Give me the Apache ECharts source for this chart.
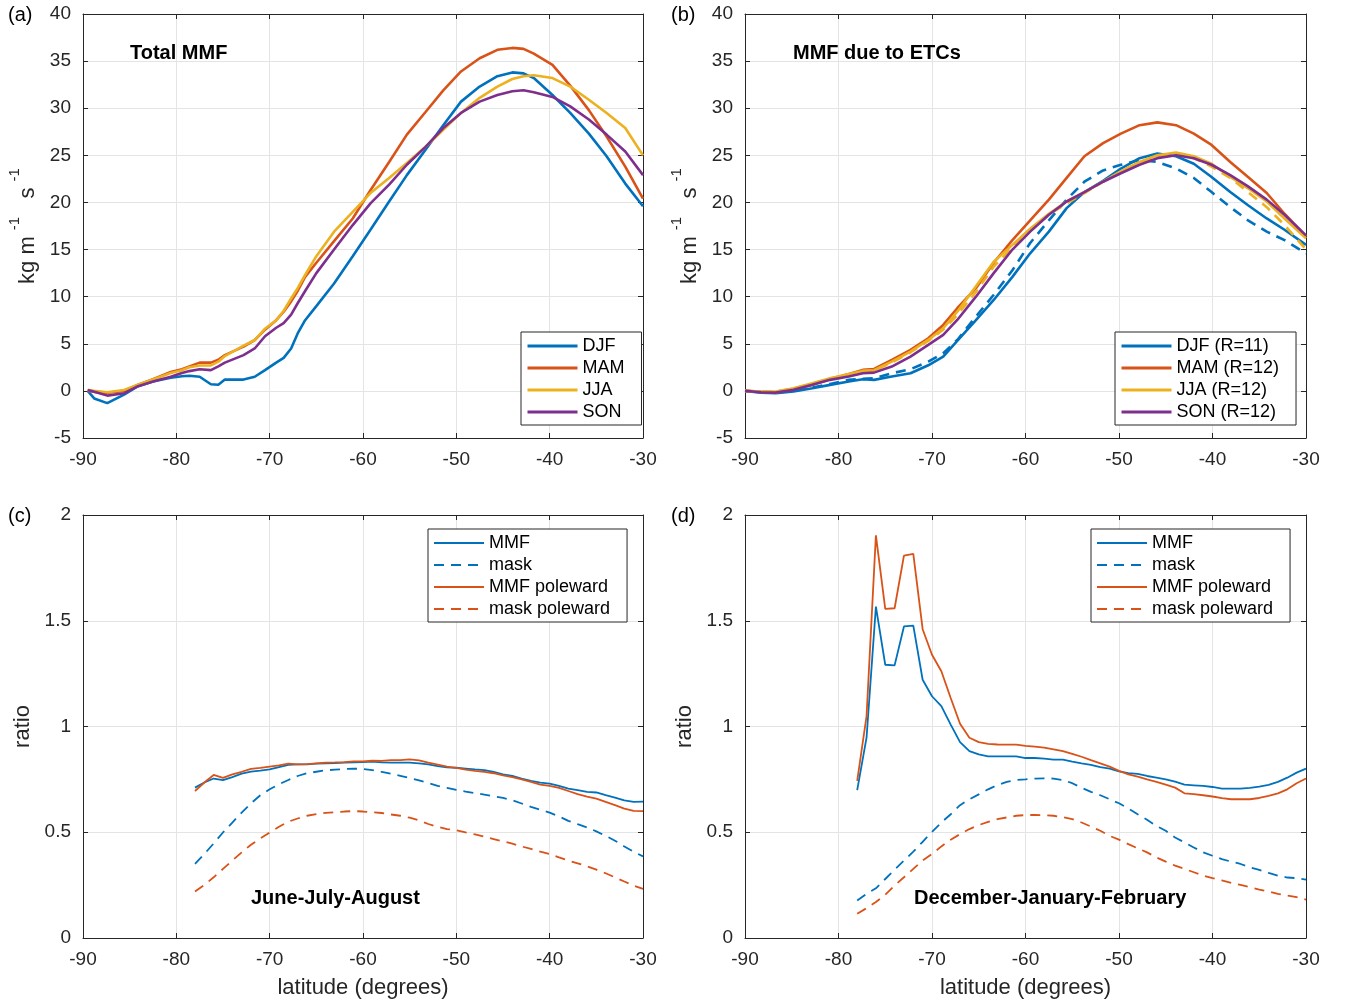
<!DOCTYPE html>
<html><head><meta charset="utf-8">
<script src="https://cdn.jsdelivr.net/npm/echarts/dist/echarts.min.js"></script>
<style>html,body{margin:0;padding:0;background:#fff}#chart{width:1347px;height:1005px}</style>
</head><body><div id="chart"></div>
<script>
// ---------- Panel (a): Total MMF ----------
var latA = [-89.5,-88.8,-87.4,-85.6,-84.1,-82.5,-80.6,-79.4,-78.6,-77.5,-76.3,-75.5,-74.8,-72.8,-71.6,-70.5,-69.3,-68.5,-67.7,-67.0,-66.2,-65.0,-63.1,-61.1,-59.2,-57.2,-55.3,-53.3,-51.4,-49.5,-47.5,-45.6,-44.0,-42.8,-41.7,-39.7,-37.8,-35.8,-33.9,-31.9,-30];
var djfA = [0,-0.8,-1.3,-0.4,0.5,1.0,1.4,1.55,1.6,1.5,0.7,0.65,1.2,1.2,1.5,2.2,3.0,3.5,4.5,6.1,7.5,9.0,11.4,14.3,17.1,20.1,22.9,25.6,28.2,30.7,32.3,33.4,33.8,33.7,33.2,31.4,29.5,27.3,24.9,22.0,19.6];
var mamA = [0,-0.1,-0.2,0.0,0.65,1.25,2.0,2.3,2.6,3.0,3.0,3.3,3.8,4.7,5.4,6.5,7.5,8.4,9.5,10.6,12.1,13.6,15.9,18.3,21.3,24.3,27.2,29.6,31.9,33.9,35.3,36.2,36.4,36.3,35.8,34.6,32.4,29.8,27.0,23.8,20.4];
var jjaA = [0.1,0.0,-0.15,0.1,0.65,1.2,1.9,2.2,2.5,2.7,2.7,3.1,3.7,4.8,5.4,6.6,7.5,8.5,9.8,10.9,12.3,14.3,16.9,19.0,21.0,22.6,24.2,25.9,27.7,29.5,31.1,32.3,33.1,33.4,33.5,33.2,32.3,30.9,29.5,27.9,25.0];
var sonA = [0.1,-0.1,-0.5,-0.25,0.5,1.0,1.5,1.9,2.1,2.3,2.2,2.6,3.0,3.8,4.5,5.8,6.7,7.2,8.1,9.3,10.6,12.5,15.0,17.6,19.9,21.9,24.0,25.9,27.9,29.5,30.7,31.4,31.8,31.9,31.7,31.2,30.2,28.8,27.2,25.4,22.9];

// ---------- Panel (b): MMF due to ETCs ----------
var latB = [-90,-88.3,-86.7,-84.8,-82.8,-80.9,-78.9,-77.4,-76.2,-74.3,-72.3,-70.4,-68.8,-67.3,-65.3,-63.4,-61.4,-59.5,-57.5,-55.6,-53.7,-51.7,-49.8,-47.8,-45.9,-43.9,-42.0,-40.1,-38.1,-36.2,-34.2,-32.3,-30];
var djfB = [0,-0.18,-0.25,-0.07,0.28,0.64,0.99,1.24,1.17,1.52,1.87,2.72,3.64,5.3,7.5,9.65,12.1,14.6,16.9,19.4,21.1,22.3,23.6,24.7,25.2,24.9,24.1,22.7,21.1,19.7,18.3,17.1,15.5];
var djfMaskB = [0,-0.1,-0.18,0,0.35,0.74,1.17,1.27,1.34,1.87,2.3,3.11,4.0,5.4,7.9,10.2,12.8,15.7,18.1,20.3,22.2,23.4,24.0,24.5,24.3,23.6,22.6,21.1,19.5,18.1,16.9,16.0,14.6];
var mamB = [0,-0.1,-0.18,0.18,0.64,1.24,1.8,2.23,2.33,3.29,4.35,5.58,7.0,8.77,10.9,13.6,16.0,18.1,20.3,22.6,24.9,26.3,27.3,28.2,28.5,28.2,27.3,26.1,24.3,22.7,21.0,18.8,16.4];
var jjaB = [0,-0.07,-0.07,0.28,0.81,1.34,1.8,2.12,2.19,3.11,4.17,5.41,6.65,8.41,11.1,13.7,15.5,17.2,18.8,20.1,21.1,22.2,23.3,24.3,25.0,25.3,24.9,24.1,22.7,21.5,20.1,18.3,16.2];
var jjaMaskB = [0,-0.07,-0.07,0.25,0.75,1.3,1.75,2.1,2.15,3.0,4.1,5.3,6.5,8.06,10.5,13.2,15.2,17.1,18.7,19.9,21.0,22.2,23.3,24.2,24.9,25.1,24.7,23.8,22.6,21.1,19.5,17.6,15.0];
var sonB = [0,-0.14,-0.18,0.11,0.64,1.17,1.52,1.87,1.94,2.58,3.64,4.88,5.94,7.53,10.0,12.5,15.0,16.9,18.7,20.1,21.1,22.2,23.1,24.0,24.7,25.0,24.7,24.0,22.9,21.7,20.3,18.7,16.5];

// ---------- Panels (c) and (d): ratios ----------
var latCD = [-78,-77,-76,-75,-74,-73,-72,-71,-70,-69,-68,-67,-66,-65,-64,-63,-62,-61,-60,-59,-58,-57,-56,-55,-54,-53,-52,-51,-50,-49,-48,-47,-46,-45,-44,-43,-42,-41,-40,-39,-38,-37,-36,-35,-34,-33,-32,-31,-30];
var mmfC = [0.711,0.735,0.754,0.746,0.761,0.777,0.787,0.791,0.797,0.808,0.819,0.821,0.821,0.824,0.826,0.827,0.829,0.830,0.832,0.834,0.830,0.829,0.829,0.829,0.826,0.821,0.813,0.807,0.805,0.801,0.797,0.794,0.785,0.774,0.766,0.754,0.743,0.735,0.730,0.719,0.706,0.699,0.691,0.688,0.675,0.664,0.651,0.644,0.645];
var maskC = [0.350,0.397,0.447,0.499,0.546,0.593,0.637,0.675,0.703,0.727,0.747,0.766,0.779,0.786,0.793,0.796,0.799,0.801,0.799,0.794,0.786,0.777,0.767,0.756,0.745,0.733,0.719,0.710,0.700,0.692,0.685,0.678,0.670,0.662,0.651,0.636,0.620,0.606,0.593,0.575,0.554,0.538,0.523,0.504,0.483,0.460,0.433,0.408,0.386];
var mmfPoleC = [0.695,0.735,0.771,0.757,0.774,0.786,0.800,0.804,0.810,0.816,0.824,0.821,0.822,0.826,0.829,0.830,0.832,0.835,0.835,0.838,0.837,0.841,0.841,0.845,0.840,0.829,0.820,0.810,0.804,0.796,0.790,0.785,0.779,0.769,0.761,0.750,0.738,0.725,0.719,0.710,0.695,0.680,0.669,0.659,0.644,0.628,0.612,0.601,0.600];
var maskPoleC = [0.220,0.251,0.287,0.327,0.366,0.405,0.441,0.471,0.499,0.526,0.550,0.565,0.578,0.586,0.592,0.595,0.598,0.600,0.598,0.595,0.591,0.584,0.578,0.569,0.556,0.539,0.526,0.515,0.509,0.499,0.490,0.479,0.468,0.457,0.446,0.433,0.421,0.408,0.397,0.381,0.366,0.353,0.339,0.323,0.306,0.287,0.267,0.248,0.232];
var mmfD = [0.699,0.947,1.567,1.292,1.289,1.473,1.477,1.221,1.143,1.096,1.009,0.926,0.884,0.868,0.859,0.859,0.859,0.859,0.851,0.851,0.848,0.843,0.843,0.834,0.826,0.819,0.808,0.801,0.788,0.780,0.776,0.766,0.758,0.750,0.739,0.725,0.722,0.719,0.714,0.706,0.706,0.706,0.710,0.716,0.724,0.738,0.758,0.782,0.801];
var maskD = [0.177,0.209,0.235,0.279,0.323,0.366,0.408,0.455,0.502,0.546,0.585,0.628,0.656,0.679,0.703,0.723,0.738,0.747,0.750,0.754,0.755,0.754,0.747,0.732,0.710,0.691,0.675,0.656,0.637,0.612,0.585,0.559,0.530,0.507,0.475,0.452,0.428,0.405,0.389,0.373,0.361,0.350,0.334,0.322,0.308,0.295,0.286,0.283,0.276];
var mmfPoleD = [0.743,1.049,1.904,1.556,1.559,1.808,1.816,1.460,1.339,1.261,1.135,1.013,0.947,0.926,0.918,0.915,0.914,0.914,0.908,0.905,0.900,0.892,0.884,0.871,0.857,0.841,0.826,0.810,0.790,0.774,0.763,0.750,0.738,0.725,0.711,0.684,0.680,0.675,0.669,0.661,0.656,0.656,0.656,0.662,0.672,0.684,0.703,0.732,0.754];
var maskPoleD = [0.115,0.141,0.170,0.204,0.248,0.287,0.327,0.366,0.397,0.433,0.465,0.491,0.515,0.534,0.549,0.562,0.570,0.578,0.581,0.582,0.581,0.578,0.571,0.562,0.546,0.527,0.507,0.483,0.465,0.444,0.424,0.405,0.381,0.361,0.342,0.327,0.311,0.295,0.283,0.272,0.261,0.251,0.240,0.229,0.220,0.209,0.201,0.193,0.182];

var legendA = ['DJF','MAM','JJA','SON'];
var legendB = ['DJF (R=11)','MAM (R=12)','JJA (R=12)','SON (R=12)'];
var legendCD = ['MMF','mask','MMF poleward','mask poleward'];

// ---------- styling ----------
var C_BLUE = '#0072BD', C_ORANGE = '#D95319', C_YELLOW = '#EDB120', C_PURPLE = '#7E2F8E';
var FONT = '"Liberation Sans", Arial, Helvetica, sans-serif';
var AX = '#262626';
var grids = [
  {left: 83, top: 14, width: 560, height: 424},
  {left: 745, top: 14, width: 561, height: 424},
  {left: 83, top: 515, width: 560, height: 423},
  {left: 745, top: 515, width: 561, height: 423}
];

function zip(xs, ys) { return xs.map(function (x, i) { return [x, ys[i]]; }); }

var unitRich = {
  a: {fontSize: 22, fontFamily: FONT, color: AX, lineHeight: 32, verticalAlign: 'bottom'},
  s: {fontSize: 15, fontFamily: FONT, color: AX, lineHeight: 32, verticalAlign: 'top'}
};
var unitText = '{a|kg m }{s|-1}{a|   s }{s|-1}';

var xAxes = [], yAxes = [];
var yRanges = [[-5, 40, 5], [-5, 40, 5], [0, 2, 0.5], [0, 2, 0.5]];
for (var g = 0; g < 4; g++) {
  var common = {
    gridIndex: g, type: 'value', min: -90, max: -30, interval: 10,
    axisLine: {show: true, onZero: false, lineStyle: {color: AX, width: 1}},
    axisTick: {show: true, inside: true, length: 5, lineStyle: {color: AX, width: 1}}
  };
  xAxes.push(Object.assign({}, common, {
    position: 'bottom',
    axisLabel: {color: AX, fontSize: 19, fontFamily: FONT, margin: 12},
    splitLine: {show: true, lineStyle: {color: '#e4e4e4', width: 1}},
    name: g >= 2 ? 'latitude (degrees)' : '',
    nameLocation: 'middle', nameGap: 39,
    nameTextStyle: {fontSize: 22, fontFamily: FONT, color: AX}
  }));
  xAxes.push(Object.assign({}, common, {
    position: 'top', axisLabel: {show: false}, splitLine: {show: false}
  }));
  var yr = yRanges[g];
  var ycommon = {
    gridIndex: g, type: 'value', min: yr[0], max: yr[1], interval: yr[2],
    axisLine: {show: true, onZero: false, lineStyle: {color: AX, width: 1}},
    axisTick: {show: true, inside: true, length: 5, lineStyle: {color: AX, width: 1}}
  };
  var yl = Object.assign({}, ycommon, {
    position: 'left',
    axisLabel: {color: AX, fontSize: 19, fontFamily: FONT, margin: 12},
    splitLine: {show: true, lineStyle: {color: '#e4e4e4', width: 1}},
    nameLocation: 'middle', nameRotate: 90
  });
  if (g < 2) {
    yl.name = unitText;
    yl.nameGap = 44;
    yl.nameTextStyle = {fontSize: 22, fontFamily: FONT, color: AX, rich: unitRich};
  } else {
    yl.name = 'ratio';
    yl.nameGap = 49;
    yl.nameTextStyle = {fontSize: 22, fontFamily: FONT, color: AX};
  }
  yAxes.push(yl);
  yAxes.push(Object.assign({}, ycommon, {
    position: 'right', axisLabel: {show: false}, splitLine: {show: false}
  }));
}

function line(name, g, xs, ys, color, width, dashed) {
  return {
    name: name, type: 'line', xAxisIndex: g * 2, yAxisIndex: g * 2,
    data: zip(xs, ys), symbol: 'none', smooth: false, animation: false,
    lineStyle: {color: color, width: width, type: dashed ? [10, 7] : 'solid', cap: 'butt'},
    itemStyle: {color: color}, emphasis: {disabled: true}, z: 3
  };
}

var series = [
  line(legendA[0], 0, latA, djfA, C_BLUE, 2.6),
  line(legendA[1], 0, latA, mamA, C_ORANGE, 2.6),
  line(legendA[2], 0, latA, jjaA, C_YELLOW, 2.6),
  line(legendA[3], 0, latA, sonA, C_PURPLE, 2.6),

  line(legendB[0], 1, latB, djfB, C_BLUE, 2.6),
  line('DJF mask', 1, latB, djfMaskB, C_BLUE, 2.6, true),
  line(legendB[1], 1, latB, mamB, C_ORANGE, 2.6),
  line(legendB[2], 1, latB, jjaB, C_YELLOW, 2.6),
  line('JJA mask', 1, latB, jjaMaskB, C_YELLOW, 2.6, true),
  line(legendB[3], 1, latB, sonB, C_PURPLE, 2.6),

  line(legendCD[0], 2, latCD, mmfC, C_BLUE, 1.8),
  line(legendCD[1], 2, latCD, maskC, C_BLUE, 1.8, true),
  line(legendCD[2], 2, latCD, mmfPoleC, C_ORANGE, 1.8),
  line(legendCD[3], 2, latCD, maskPoleC, C_ORANGE, 1.8, true),

  line(legendCD[0], 3, latCD, mmfD, C_BLUE, 1.8),
  line(legendCD[1], 3, latCD, maskD, C_BLUE, 1.8, true),
  line(legendCD[2], 3, latCD, mmfPoleD, C_ORANGE, 1.8),
  line(legendCD[3], 3, latCD, maskPoleD, C_ORANGE, 1.8, true)
];

function legend(names, left, top, lw) {
  return {
    data: names, left: left, top: top, orient: 'vertical',
    itemWidth: 50, itemHeight: 14, itemGap: 0,
    padding: [3, 17, 2, 5],
    borderColor: AX, borderWidth: 1, backgroundColor: '#fff',
    selectedMode: false, z: 10,
    itemStyle: {opacity: 0},
    lineStyle: {width: lw},
    textStyle: {fontSize: 18, fontFamily: FONT, color: '#000', lineHeight: 22}
  };
}

function label(text, left, top, bold) {
  return {
    type: 'text', left: left, top: top, z: 20,
    style: {text: text, fill: '#000', font: (bold ? 'bold 20px ' : '20px ') + FONT}
  };
}

var option = {
  backgroundColor: '#fff',
  animation: false,
  grid: grids,
  xAxis: xAxes,
  yAxis: yAxes,
  legend: [
    legend(legendA, 521, 332, 3),
    legend(legendB, 1115, 332, 3),
    legend(legendCD, 428, 529, 2),
    legend(legendCD, 1091, 529, 2)
  ],
  series: series,
  graphic: [
    label('(a)', 8, 5), label('(b)', 671, 5), label('(c)', 8, 506), label('(d)', 671, 506),
    label('Total MMF', 130, 43, true),
    label('MMF due to ETCs', 793, 43, true),
    label('June-July-August', 251, 888, true),
    label('December-January-February', 914, 888, true)
  ]
};

var chart = echarts.init(document.getElementById('chart'), null, {renderer: 'canvas'});
chart.setOption(option);
</script></body></html>
